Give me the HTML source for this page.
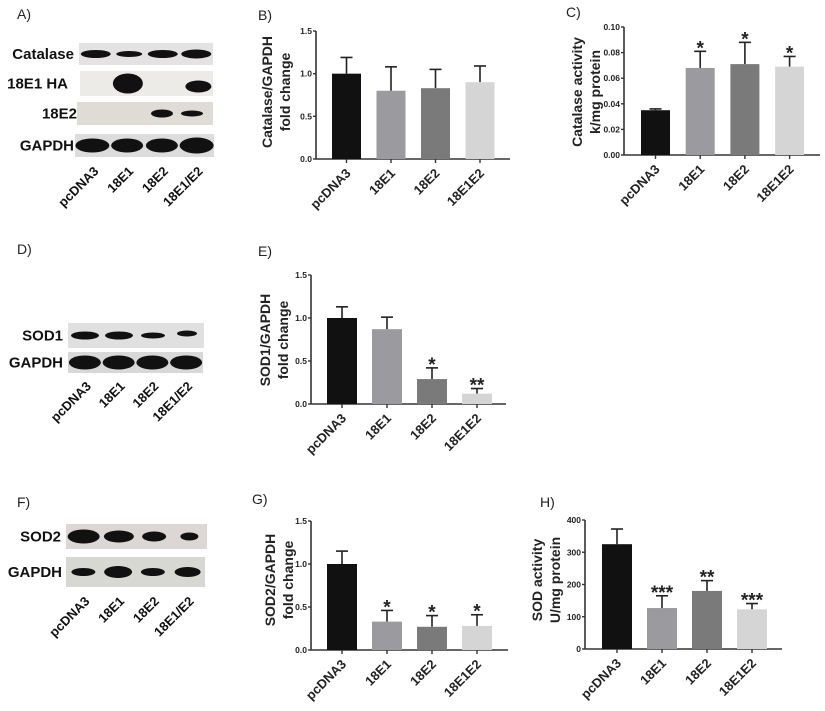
<!DOCTYPE html>
<html><head><meta charset="utf-8"><style>
html,body{margin:0;padding:0;background:#fff;}
svg{display:block;font-family:"Liberation Sans",Arial,sans-serif;}
</style></head><body>
<svg id="fig" width="825" height="711" viewBox="0 0 825 711" xmlns="http://www.w3.org/2000/svg">
<g font-family="Liberation Sans, sans-serif" font-size="14" fill="#222">
<text x="17" y="19">A)</text>
<text x="258" y="20">B)</text>
<text x="566" y="17">C)</text>
<text x="17" y="254">D)</text>
<text x="258" y="256">E)</text>
<text x="17" y="507">F)</text>
<text x="252" y="504">G)</text>
<text x="540" y="507">H)</text>
</g>
<g id="blots"></g>
<g id="charts"></g>
</svg>
<script>
const groups = ["pcDNA3","18E1","18E2","18E1E2"];
const blotLanes = ["pcDNA3","18E1","18E2","18E1/E2"];
const colors = ["#111111","#9b9b9f","#7a7a7a","#d5d5d5"];
// Panel B
const bVals = [1.0,0.80,0.83,0.90];
const bErr  = [1.19,1.08,1.05,1.09];
const bTicks = ["0.0","0.5","1.0","1.5"];
const bStars = ["","","",""];
// Panel C
const cVals = [0.035,0.068,0.071,0.069];
const cErr  = [0.036,0.081,0.088,0.077];
const cTicks = ["0.00","0.02","0.04","0.06","0.08","0.10"];
const cStars = ["","*","*","*"];
// Panel E
const eVals = [1.0,0.87,0.29,0.12];
const eErr  = [1.13,1.01,0.42,0.18];
const eTicks = ["0.0","0.5","1.0","1.5"];
const eStars = ["","","*","**"];
// Panel G
const gVals = [1.0,0.33,0.27,0.28];
const gErr  = [1.15,0.46,0.40,0.41];
const gTicks = ["0.0","0.5","1.0","1.5"];
const gStars = ["","*","*","*"];
// Panel H
const hVals = [325,127,180,123];
const hErr  = [372,165,212,141];
const hTicks = ["0","100","200","300","400"];
const hStars = ["","***","**","***"];

const NS="http://www.w3.org/2000/svg";
function mk(tag,attrs,parent){const e=document.createElementNS(NS,tag);for(const k in attrs)e.setAttribute(k,attrs[k]);parent.appendChild(e);return e;}
const charts=document.getElementById('charts');

function chart(id,cfg,vals,errs,ticks,stars,titles){
  const g=mk('g',{},charts);
  
  
  const tmin=parseFloat(ticks[0]),tmax=parseFloat(ticks[ticks.length-1]);
  const y=v=>cfg.y0-(v-tmin)/(tmax-tmin)*(cfg.y0-cfg.y1);
  const bx=i=>cfg.x0+cfg.gap+i*cfg.step;
  const yax=mk('line',{x1:cfg.ax,y1:cfg.y1,x2:cfg.ax,y2:cfg.y0,stroke:'#333','stroke-width':1.6},g);
  
  
  const xax=mk('line',{x1:cfg.ax,y1:cfg.y0,x2:cfg.xend,y2:cfg.y0,stroke:'#333','stroke-width':1.6},g);
  
  
  ticks.forEach(t=>{
    const yy=y(parseFloat(t));
    mk('line',{x1:cfg.ax-3,y1:yy,x2:cfg.ax,y2:yy,stroke:'#333','stroke-width':1.4},g);
    const tx=mk('text',{x:cfg.ax-4,y:yy+3,'text-anchor':'end','font-size':8.5,'font-weight':'bold',fill:'#222'},g);
    tx.textContent=t;
    
    
  });
  vals.forEach((v,i)=>{
    const x=bx(i),cx=x+cfg.bw/2;
    const ey=y(errs[i]);
    mk('line',{x1:cx,y1:ey,x2:cx,y2:y(v),stroke:'#222','stroke-width':1.6},g);
    mk('line',{x1:cx-6,y1:ey,x2:cx+6,y2:ey,stroke:'#222','stroke-width':1.6},g);
    const r=mk('rect',{x:x,y:y(v),width:cfg.bw,height:cfg.y0-y(v),fill:colors[i]},g);
    
    
    mk('line',{x1:cx,y1:cfg.y0,x2:cx,y2:cfg.y0+4,stroke:'#333','stroke-width':1.4},g);
    if(stars[i]){
      const s=mk('text',{x:cx,y:ey+3,'text-anchor':'middle','font-size':19,'font-weight':'bold',fill:'#222'},g);
      s.textContent=stars[i];
      
      
    }
    const lx=cx+5,ly=cfg.y0+15;
    const l=mk('text',{x:lx,y:ly,transform:`rotate(-45 ${lx} ${ly})`,'text-anchor':'end','font-size':13,'font-weight':'bold',fill:'#222'},g);
    l.textContent=groups[i];
    
    
  });
  titles.forEach((t,k)=>{
    const tx=cfg.tx+k*18,ty=cfg.ty;
    const e=mk('text',{x:tx,y:ty,transform:`rotate(-90 ${tx} ${ty})`,'text-anchor':'middle','font-size':14,'font-weight':'bold',fill:'#222'},g);
    e.textContent=t;
    
    
  });
}
chart('chart-b',{ax:316,y0:159,y1:31,x0:316,gap:16,step:44.5,bw:29,xend:510,tx:272,ty:92},bVals,bErr,bTicks,bStars,["Catalase/GAPDH","fold change"]);
chart('chart-c',{ax:624,y0:155,y1:27,x0:624,gap:17,step:44.7,bw:29,xend:820,tx:582,ty:92},cVals,cErr,cTicks,cStars,["Catalase activity","k/mg protein"]);
chart('chart-e',{ax:311,y0:404,y1:275,x0:311,gap:16,step:45,bw:30,xend:506,tx:270,ty:340},eVals,eErr,eTicks,eStars,["SOD1/GAPDH","fold change"]);
chart('chart-g',{ax:311,y0:650,y1:521,x0:311,gap:16,step:45,bw:30,xend:508,tx:275,ty:580},gVals,gErr,gTicks,gStars,["SOD2/GAPDH","fold change"]);
chart('chart-h',{ax:585,y0:649,y1:520,x0:585,gap:17,step:45,bw:30,xend:782,tx:542,ty:580},hVals,hErr,hTicks,hStars,["SOD activity","U/mg protein"]);

// Western blots
const blots=document.getElementById('blots');
function blot(id,label,x,y,w,h,bg,bands,labelRight,lab){
  const g=mk('g',{},blots);
  
  
  mk('rect',{x:x,y:y,width:w,height:h,fill:bg},g);
  bands.forEach((b,i)=>{
    if(!b)return;
    const cx=x+w*(i+0.5)/4;
    mk('ellipse',{cx:cx+(b[2]||0),cy:y+h/2+(b[3]||0),rx:b[0],ry:b[1],fill:'#111'},g);
  });
  const t=mk('text',{x:labelRight,y:y+h/2+5,'text-anchor':'end','font-size':lab||15,'font-weight':'bold',fill:'#111'},g);
  t.textContent=label;
  
  
}
blot('blot-catalase','Catalase',79,43,134,22,'#e4e2e2',[[15,4],[13,3],[15,4],[15,4.5]],74);
blot('blot-18e1-ha','18E1 HA',80,71,133,25,'#ecebe8',[null,[15,10,-2,0],null,[13,6,2,3]],68);
blot('blot-18e2','18E2',77,102,136,23,'#dedcd4',[null,null,[11,4,0,0],[11,3,-4,0]],77);
blot('blot-gapdh-a','GAPDH',75,134,139,23,'#dcdcdc',[[17,7],[16,7],[16,7],[17,8]],74);
blot('blot-sod1','SOD1',68,323,136,25,'#e0e0e0',[[14,4],[14,4],[12,3],[10,3,0,-2]],63);
blot('blot-gapdh-d','GAPDH',68,352,135,21,'#d8d8d8',[[16,7],[16,7],[16,7],[16,7]],63);
blot('blot-sod2','SOD2',66,524,141,25,'#dcd6d4',[[16,7],[15,6],[12,5],[9,4]],61);
blot('blot-gapdh-f','GAPDH',66,557,139,30,'#d8d8d2',[[12,4],[14,6],[12,4],[13,5]],62);

function laneLabels(id,x,w,y){
  blotLanes.forEach((n,i)=>{
    const lx=x+w*(i+0.5)/4+7,ly=y;
    const t=mk('text',{x:lx,y:ly,transform:`rotate(-45 ${lx} ${ly})`,'text-anchor':'end','font-size':13,'font-weight':'bold',fill:'#111'},blots);
    t.textContent=n;
    
    
  });
}
laneLabels('blot-a',75,139,172);
laneLabels('blot-d',68,135,387);
laneLabels('blot-f',66,139,602);
</script>
</body></html>
